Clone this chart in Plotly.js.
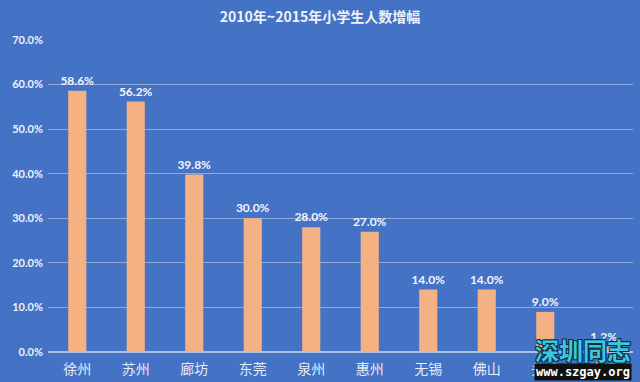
<!DOCTYPE html>
<html><head><meta charset="utf-8">
<script src="https://cdn.plot.ly/plotly-3.0.1.min.js"></script>
<style>html,body{margin:0;padding:0;background:#4472C4;}#c{width:640px;height:382px;}</style>
</head><body><div id="c"></div>
<script>
const categories = ["徐州","苏州","廊坊","东莞","泉州","惠州","无锡","佛山","头条","南通"];
const growth = [58.6, 56.2, 39.8, 30.0, 28.0, 27.0, 14.0, 14.0, 9.0, 1.2];
const yTicks = [0,10,20,30,40,50,60,70];
const yTickText = yTicks.map(v => v.toFixed(1) + "%");
const F = "Lato, 'Noto Sans CJK SC', sans-serif";

const trace = {
  type: "bar",
  x: categories,
  y: growth,
  marker: {color: "#F4B183", line: {width: 0}},
  text: growth.map(v => v.toFixed(1) + "%"),
  textposition: "outside",
  constraintext: "none",
  cliponaxis: false,
  textfont: {family: F, size: 12, color: "#F2F5FB", weight: "bold"},
  hoverinfo: "none"
};

const layout = {
  width: 640, height: 382,
  paper_bgcolor: "#4472C4", plot_bgcolor: "#4472C4",
  margin: {l: 48, r: 7, t: 40, b: 30},
  title: {text: "<b>2010年~2015年小学生人数增幅</b>", x: 0.5, xanchor: "center", y: 0.955, yanchor: "middle",
          font: {family: "'Noto Sans CJK SC', sans-serif", size: 14, color: "#EEF2FA"}},
  bargap: 0.69,
  showlegend: false,
  xaxis: {
    type: "category", showgrid: false, zeroline: false,
    showline: false, ticks: "", ticklabelstandoff: 7,
    tickfont: {family: "'Noto Sans CJK SC', sans-serif", size: 14, color: "#E6ECF7"}
  },
  yaxis: {
    range: [0, 70], tickvals: yTicks, ticktext: yTickText,
    showgrid: true, gridcolor: "#8EA9DB", gridwidth: 1,
    zeroline: true, zerolinecolor: "#A9BFE6", zerolinewidth: 1.5,
    showline: false, ticks: "",
    tickfont: {family: F, size: 11, color: "#EEF2FA", weight: "bold"},
    ticklabelstandoff: 4
  },
  annotations: [
    {xref: "paper", yref: "paper", x: 1.0, y: 0.008, xanchor: "right", yanchor: "middle",
     text: "<b>深圳同志</b>", showarrow: false,
     font: {family: "'Noto Sans CJK SC', sans-serif", size: 24, color: "#3CC8DC",
            shadow: "1px 1px 0 #0a2a3a, -1px -1px 0 #0a2a3a, 1px -1px 0 #0a2a3a, -1px 1px 0 #0a2a3a"}},
    {xref: "paper", yref: "paper", x: 0.998, y: -0.064, xanchor: "right", yanchor: "middle",
     text: "<b>www.szgay.org</b>", showarrow: false, bgcolor: "#111111", borderpad: 1,
     font: {family: "'DejaVu Sans Mono', monospace", size: 12, color: "#FFFFFF"}}
  ]
};

Plotly.newPlot("c", [trace], layout, {displayModeBar: false, staticPlot: true});
</script>
</body></html>
